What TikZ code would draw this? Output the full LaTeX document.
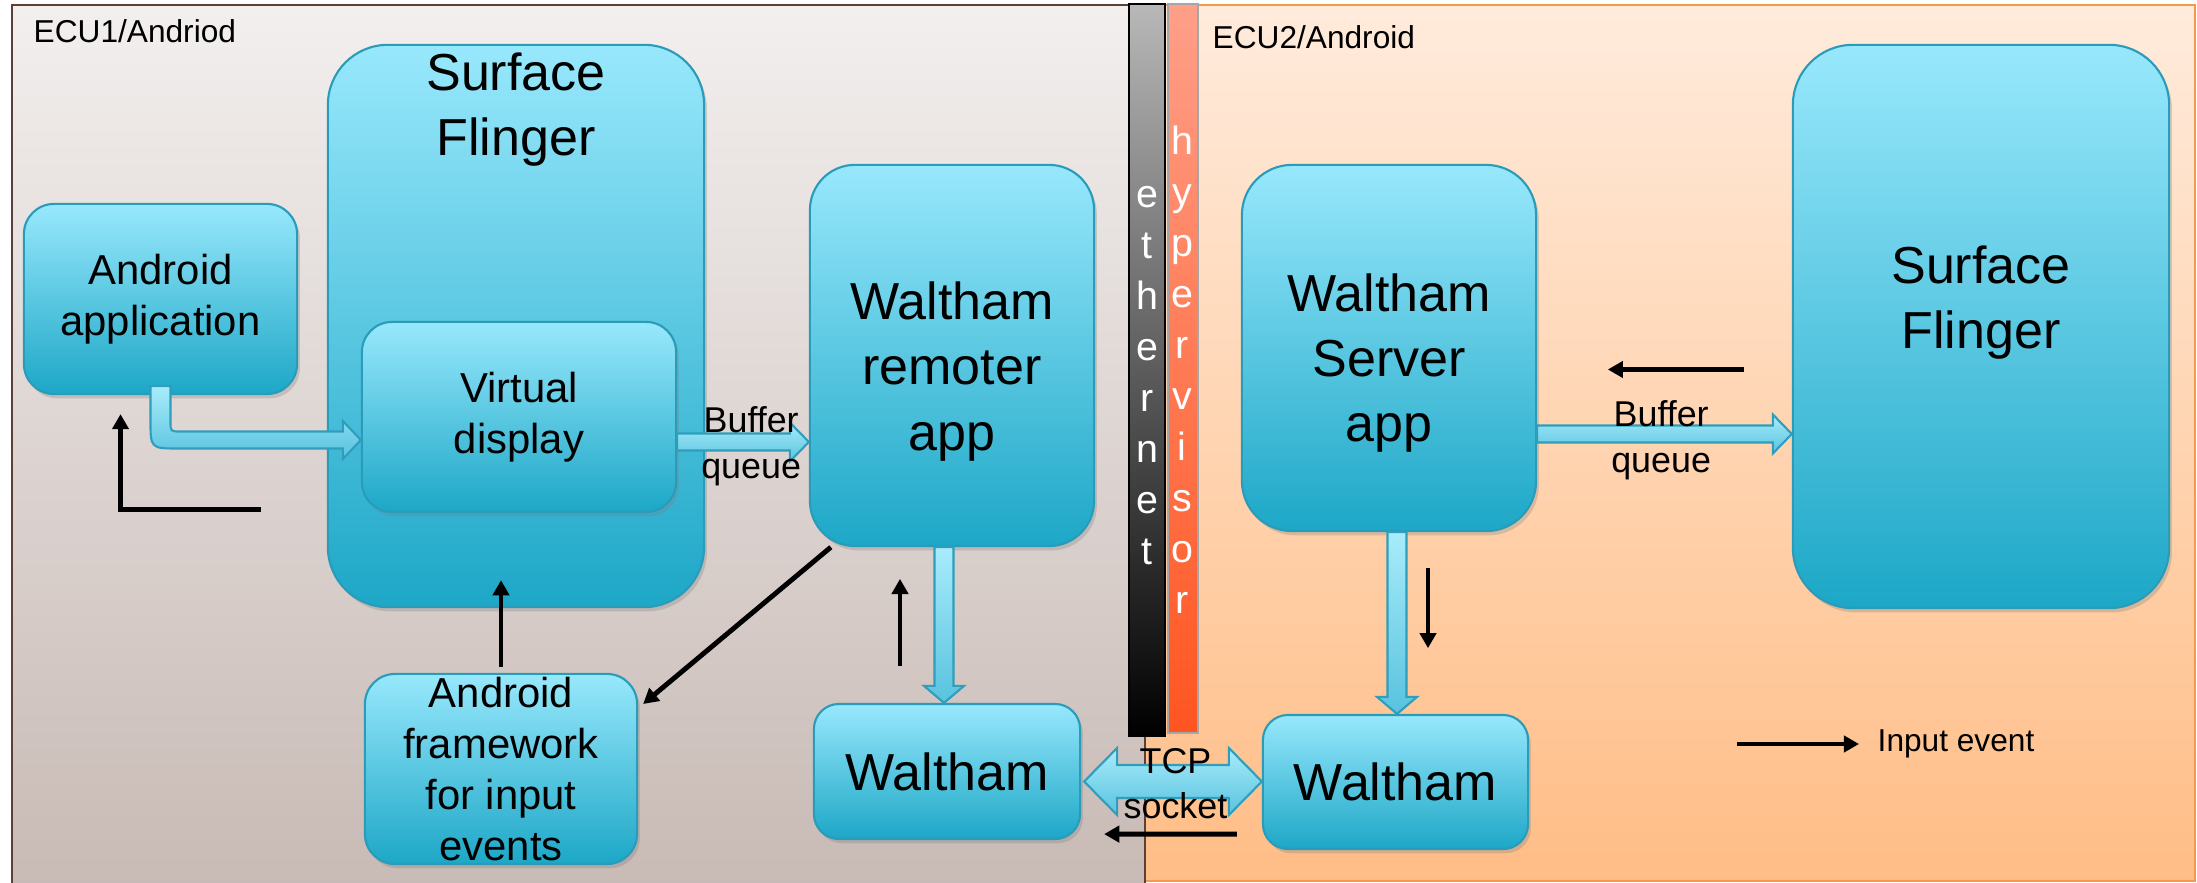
\documentclass[tikz,border=0pt]{standalone}
\usepackage{fontspec}
\setmainfont{Liberation Sans}
\usetikzlibrary{calc,arrows.meta,shadows}

\definecolor{boxtop}{HTML}{98E8FC}
\definecolor{boxbot}{HTML}{1DA7C7}
\definecolor{boxline}{HTML}{2A9BB8}
\definecolor{arrtop}{HTML}{A8ECFB}
\definecolor{arrbot}{HTML}{58C2DE}
\definecolor{arrline}{HTML}{2E9EBC}
\definecolor{ecuonetop}{HTML}{F2EFEE}
\definecolor{ecuonebot}{HTML}{C8BAB5}
\definecolor{ecuoneline}{HTML}{5C4038}
\definecolor{ecutwotop}{HTML}{FFEBDC}
\definecolor{ecutwobot}{HTML}{FFBD86}
\definecolor{ecutwoline}{HTML}{F59A4C}
\definecolor{ethtop}{HTML}{B8B8B8}
\definecolor{hyptop}{HTML}{FF9F88}
\definecolor{hypbot}{HTML}{FF5520}

\tikzset{
  box/.style={draw=boxline, line width=0.6pt, top color=boxtop, bottom color=boxbot,
    rounded corners=#1, align=center, inner sep=0pt,
    drop shadow={shadow xshift=0.8pt, shadow yshift=-1.2pt, opacity=0.3}},
  box/.default=0.3cm,
  bigtext/.style={font=\fontsize{14.8pt}{18.5pt}\selectfont, align=center, inner sep=0pt},
  midtext/.style={font=\fontsize{11.9pt}{14.5pt}\selectfont},
  smalltext/.style={font=\fontsize{10.2pt}{13pt}\selectfont, align=center, inner sep=0pt},
  tagtext/.style={font=\fontsize{9pt}{11pt}\selectfont, inner sep=0pt},
  barletter/.style={font=\fontsize{11.2pt}{13pt}\selectfont, text=white, inner sep=0pt},
  evt/.style={line width=1.4pt, -{Triangle[length=4.3pt,width=4.6pt]}},
  blockarrow/.style={draw=arrline, line width=0.6pt, top color=arrtop, bottom color=arrbot},
  hblock/.style={blockarrow, to path={let \p1=(\tikztostart), \p2=(\tikztotarget) in
    (\x1,\y1+0.085cm) -- (\x2-0.19cm,\y1+0.085cm) -- (\x2-0.19cm,\y1+0.195cm) -- (\x2,\y1)
    -- (\x2-0.19cm,\y1-0.195cm) -- (\x2-0.19cm,\y1-0.085cm) -- (\x1,\y1-0.085cm) -- cycle}},
  vblock/.style={blockarrow, to path={let \p1=(\tikztostart), \p2=(\tikztotarget) in
    (\x1-0.095cm,\y1) -- (\x1-0.095cm,\y2+0.17cm) -- (\x1-0.2cm,\y2+0.17cm) -- (\x1,\y2)
    -- (\x1+0.2cm,\y2+0.17cm) -- (\x1+0.095cm,\y2+0.17cm) -- (\x1+0.095cm,\y1) -- cycle}},
  dblock/.style={blockarrow, to path={let \p1=(\tikztostart), \p2=(\tikztotarget) in
    (\x1,\y1) -- (\x1+0.33cm,\y1+0.335cm) -- (\x1+0.33cm,\y1+0.165cm) -- (\x2-0.33cm,\y1+0.165cm)
    -- (\x2-0.33cm,\y1+0.335cm) -- (\x2,\y1) -- (\x2-0.33cm,\y1-0.335cm) -- (\x2-0.33cm,\y1-0.165cm)
    -- (\x1+0.33cm,\y1-0.165cm) -- (\x1+0.33cm,\y1-0.335cm) -- cycle}}
}

\begin{document}
\begin{tikzpicture}[x=0.01cm, y=-0.01cm]
	\useasboundingbox (0,0) rectangle (2197,883);
	\fill[white] (0,0) rectangle (2197,883);

	% the two ECUs
	\draw[draw=ecutwoline, line width=0.8pt, top color=ecutwotop, bottom color=ecutwobot] (1145,5) rectangle (2195,881);
	\draw[draw=ecuoneline, line width=0.8pt, top color=ecuonetop, bottom color=ecuonebot] (12,5) rectangle (1145,890);
	\node[tagtext, anchor=west] (ecuone) at (33,31) {ECU1/Andriod};
	\node[tagtext, anchor=west] (ecutwo) at (1212,37) {ECU2/Android};

	% ethernet and hypervisor bars
	\draw[draw=black, line width=0.8pt, top color=ethtop, bottom color=black] (1129,4) rectangle (1165,736);
	\draw[draw=gray!70, line width=0.5pt, top color=hyptop, bottom color=hypbot] (1168,4) rectangle (1198,733);
	\foreach \c [count=\i] in {e,t,h,e,r,n,e,t}
		\node[barletter, anchor=base] (eth\i) at (1147,{208+51*(\i-1)}) {\c};
	\foreach \c [count=\i] in {h,y,p,e,r,v,i,s,o,r}
		\node[barletter, anchor=base] (hyp\i) at (1182,{155+50.9*(\i-1)}) {\c};

	% ECU1 boxes
	\node[box=0.6cm, minimum width=3.76cm, minimum height=5.62cm] (sfl) at (516,326) {};
	\node[bigtext, anchor=north] (sfltext) at ($(sfl.north)+(0,8)$) {Surface\\Flinger};
	\node[box, minimum width=3.14cm, minimum height=1.9cm, midtext] (vd) at (519,417) {Virtual\\display};
	\node[box, minimum width=2.73cm, minimum height=1.9cm, midtext] (app) at (160.5,299) {Android\\application};
	\node[box=0.45cm, minimum width=2.84cm, minimum height=3.81cm] (wr) at (952,355.5) {};
	\node[bigtext] (wrtext) at ($(wr)+(0,16)$) {Waltham\\remoter\\app};
	\node[box=0.25cm, minimum width=2.66cm, minimum height=1.35cm, bigtext] (wl) at (947,771.5) {Waltham};
	\node[box, minimum width=2.72cm, minimum height=1.9cm, midtext] (fw) at (501,769) {Android\\framework\\for input\\events};

	% ECU2 boxes
	\node[box=0.5cm, minimum width=2.94cm, minimum height=3.66cm] (ws) at (1389,348) {};
	\node[bigtext] (wstext) at ($(ws)+(0,15)$) {Waltham\\Server\\app};
	\node[box=0.6cm, minimum width=3.76cm, minimum height=5.63cm] (sfr) at (1981,326.5) {};
	\node[bigtext] (sfrtext) at ($(sfr)+(0,-24)$) {Surface\\Flinger};
	\node[box=0.25cm, minimum width=2.65cm, minimum height=1.34cm, bigtext] (wrr) at (1395.5,782) {Waltham};

	% buffers
	\draw[blockarrow] let \p1=(app.south), \p2=($(vd.west)+(0,23)$) in
		(\x1-0.1cm,\y1+0.09cm) -- (\x1-0.1cm,\y2+0.2cm) .. controls (\x1-0.1cm,\y2-0.085cm) .. (\x1+0.18cm,\y2-0.085cm)
		-- (\x2-0.18cm,\y2-0.085cm) -- (\x2-0.18cm,\y2-0.19cm) -- (\x2,\y2) -- (\x2-0.18cm,\y2+0.19cm)
		-- (\x2-0.18cm,\y2+0.085cm) -- (\x1+0.2cm,\y2+0.085cm) .. controls (\x1+0.1cm,\y2+0.085cm) .. (\x1+0.1cm,\y2+0.185cm)
		-- (\x1+0.1cm,\y1+0.09cm) -- cycle;
	\draw[hblock] ($(vd.east)+(0,25)$) to (wr.west);
	\draw[hblock] ($(ws.east)+(0,86)$) to (sfr.west);
	\draw[vblock] ($(wr.south)+(-8,0)$) to (wl.north);
	\draw[vblock] ($(ws.south)+(8,0)$) to (wrr.north);
	\draw[dblock] ($(wl.east)+(3,10)$) to (wrr.west);
	\node[smalltext] (bqone) at ($(vd.east)+(74,29)$) {Buffer\\queue};
	\node[smalltext] (bqtwo) at ($(ws.east)+(124,92)$) {Buffer\\queue};
	\node[smalltext] (tcp) at ($(wl.east)!0.5!(wrr.west)+(4,7)$) {TCP\\socket};

	% input events
	\draw[evt] ($(app.south)+(100,114)$) -| ($(app.south)+(-40,19)$);
	\draw[evt] ($(fw.north)+(0,-6)$) -- ($(sfl.south)+(-15,-28)$);
	\draw[evt] ($(wr.south west)+(22,0)$) -- ($(fw.east)+(5,-65)$);
	\draw[evt] ($(wl.north)+(-47,-37)$) -- ++(0,-87);
	\draw[evt] ($(wrr.south west)+(-25,-16)$) -- ($(wl.south east)+(23,-6)$);
	\draw[evt] ($(sfr.west)+(-48,43)$) -- ++(-136,0);
	\draw[evt] ($(ws.south)+(39,36)$) -- ++(0,80);

	% legend
	\coordinate (legstart) at (1737,744);
	\node[tagtext, anchor=west] (legend) at (1877,744) {Input event};
	\draw[evt] (legstart) -- ($(legend.west)+(-18,0)$);
\end{tikzpicture}
\end{document}
